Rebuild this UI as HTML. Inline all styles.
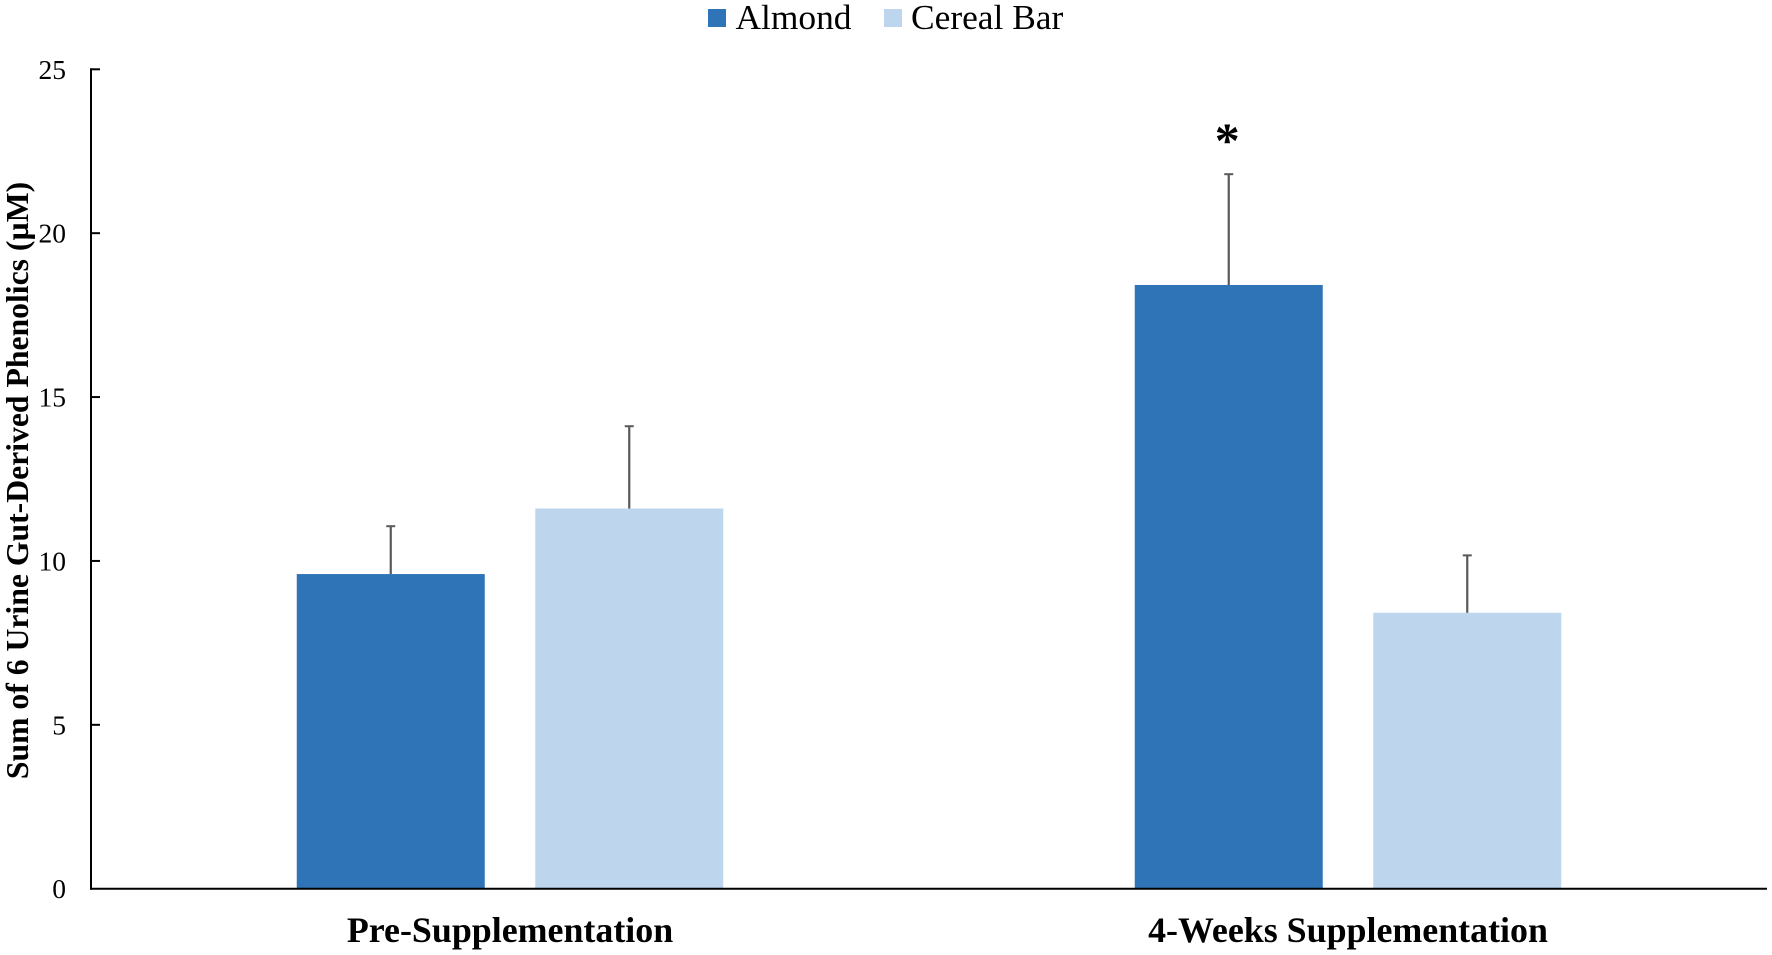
<!DOCTYPE html>
<html>
<head>
<meta charset="utf-8">
<title>Sum of 6 Urine Gut-Derived Phenolics</title>
<style>
html,body{margin:0;padding:0;background:#fff;}
svg{display:block;}
text{font-family:"Liberation Serif",serif;fill:#000;}
</style>
</head>
<body>
<svg id="chart" xmlns="http://www.w3.org/2000/svg" width="1772" height="955" viewBox="0 0 1772 955"></svg>
<script>
const categories = ['Pre-Supplementation', '4-Weeks Supplementation'];
const seriesNames = ['Almond', 'Cereal Bar'];
const almondValues = [9.6, 18.42];
const cerealValues = [11.6, 8.42];
const almondErrors = [1.46, 3.38];
const cerealErrors = [2.51, 1.75];
const yTicks = [0, 5, 10, 15, 20, 25];
const significance = ['', '*'];

const svg = document.getElementById('chart');
const NS = 'http://www.w3.org/2000/svg';
const plotLeft = 91, plotRight = 1767, plotTop = 69.3, plotBottom = 888.7;
const yMax = 25;
const barWidth = 188, barGap = 50.5;
const colors = ['#2e74b7', '#bdd6ee'];

function yScale(v) { return plotBottom - (v / yMax) * (plotBottom - plotTop); }
function xCenter(i) { return plotLeft + (plotRight - plotLeft) * (i + 0.5) / categories.length; }
function barLeft(i, s) { return xCenter(i) + (s === 0 ? -(barGap / 2 + barWidth) : barGap / 2); }

function make(tag, attrs, text) {
  const el = document.createElementNS(NS, tag);
  for (const k in attrs) el.setAttribute(k, attrs[k]);
  if (text !== undefined) el.textContent = text;
  svg.appendChild(el);
  return el;
}

// bars
[almondValues, cerealValues].forEach(function (vals, s) {
  vals.forEach(function (v, i) {
    const r = make('rect', { x: barLeft(i, s), y: yScale(v), width: barWidth, height: plotBottom - yScale(v), fill: colors[s] });
    
    
  });
});

// error bars
[almondErrors, cerealErrors].forEach(function (errs, s) {
  const vals = s === 0 ? almondValues : cerealValues;
  errs.forEach(function (e, i) {
    const cx = barLeft(i, s) + barWidth / 2;
    const top = yScale(vals[i] + e);
    const stem = make('line', { x1: cx, x2: cx, y1: yScale(vals[i]), y2: top, stroke: '#595959', 'stroke-width': 2.2 });
    
    
    const cap = make('line', { x1: cx - 4.5, x2: cx + 4.5, y1: top, y2: top, stroke: '#595959', 'stroke-width': 2 });
    
    
  });
});

// axes
const yAxis = make('line', { x1: plotLeft, x2: plotLeft, y1: plotTop - 1, y2: plotBottom + 1, stroke: '#000', 'stroke-width': 2 });


const xAxis = make('line', { x1: plotLeft - 1, x2: plotRight, y1: plotBottom, y2: plotBottom, stroke: '#000', 'stroke-width': 2 });



// y ticks
yTicks.forEach(function (t) {
  const y = yScale(t);
  if (t > 0) {
    const tick = make('line', { x1: plotLeft, x2: plotLeft + 9, y1: y, y2: y, stroke: '#000', 'stroke-width': 2 });
    
    
  }
  const label = make('text', { x: 66, y: y + 9.5, 'text-anchor': 'end', 'font-size': 27.5, fill: '#111' }, String(t));
  
  
});

// category labels
categories.forEach(function (c, i) {
  const label = make('text', { x: xCenter(i), y: 942, 'text-anchor': 'middle', 'font-size': 35.9, 'font-weight': 'bold' }, c);
  
  
});

// significance markers
significance.forEach(function (m, i) {
  if (!m) return;
  const star = make('text', { x: barLeft(i, 0) + barWidth / 2 - 1.5, y: 157, 'text-anchor': 'middle', 'font-size': 50, 'font-weight': 'bold' }, m);
  
  
});

// y axis title
const yTitle = make('text', { transform: 'translate(28,480.5) rotate(-90)', 'text-anchor': 'middle', 'font-size': 31.7, 'font-weight': 'bold' }, 'Sum of 6 Urine Gut-Derived Phenolics (µM)');



// legend
const legendSwatchX = [708, 884];
const legendTextX = [735.5, 911];
seriesNames.forEach(function (n, s) {
  const sw = make('rect', { x: legendSwatchX[s], y: 9, width: 18, height: 18, fill: colors[s] });
  
  
  const tx = make('text', { x: legendTextX[s], y: 29, 'font-size': 35.4 }, n);
  
  
});
</script>
</body>
</html>
